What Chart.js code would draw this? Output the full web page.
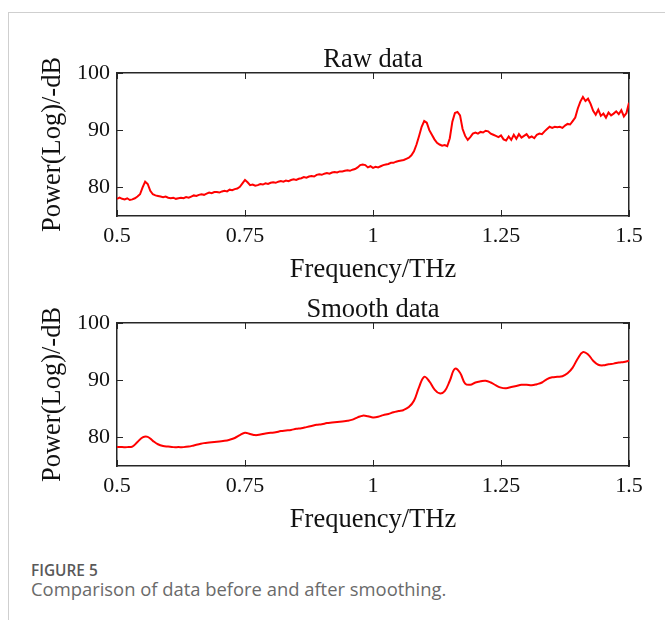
<!DOCTYPE html>
<html>
<head>
<meta charset="utf-8">
<script src="https://cdn.jsdelivr.net/npm/chart.js@4.4.0/dist/chart.umd.min.js"></script>
<style>
  body { margin: 0; background: #fff; }
  #page { position: relative; width: 665px; height: 620px; overflow: hidden; background: #fff; }
  #frame { position: absolute; left: 8px; top: 12px; right: -2px; bottom: -2px;
           border-top: 1px solid #cfcfcf; border-left: 1px solid #cfcfcf; }
  .plot { position: absolute; left: 0; }
  .cap { position: absolute; left: 31px; font-family: "Open Sans", sans-serif; white-space: nowrap; }
  #cap1 { top: 561px; font-size: 15.4px; line-height: 20px; font-weight: 600; color: #595959; }
  #cap2 { top: 577px; font-size: 18.4px; line-height: 24px; color: #6a6a6a; }
</style>
</head>
<body>
<div id="page">
  <div id="frame"></div>
  <canvas id="chart-raw" class="plot" width="665" height="270" style="top:30px"></canvas>
  <canvas id="chart-smooth" class="plot" width="665" height="270" style="top:280px"></canvas>
  <div id="cap1" class="cap">FIGURE 5</div>
  <div id="cap2" class="cap">Comparison of data before and after smoothing.</div>
</div>
<script>
var xTicks = [0.5, 0.75, 1, 1.25, 1.5];
var xTickLabels = ["0.5", "0.75", "1", "1.25", "1.5"];
var yTicks = [80, 90, 100];
var yTickLabels = ["80", "90", "100"];

var rawFreq = [
  0.500,0.505,0.510,0.515,0.520,0.525,0.530,0.535,0.540,0.545,
  0.550,0.555,0.560,0.565,0.570,0.575,0.580,0.585,0.590,0.595,
  0.600,0.605,0.610,0.615,0.620,0.625,0.630,0.635,0.640,0.645,
  0.650,0.655,0.660,0.665,0.670,0.675,0.680,0.685,0.690,0.695,
  0.700,0.705,0.710,0.715,0.720,0.725,0.730,0.735,0.740,0.745,
  0.750,0.755,0.760,0.765,0.770,0.775,0.780,0.785,0.790,0.795,
  0.800,0.805,0.810,0.815,0.820,0.825,0.830,0.835,0.840,0.845,
  0.850,0.855,0.860,0.865,0.870,0.875,0.880,0.885,0.890,0.895,
  0.900,0.905,0.910,0.915,0.920,0.925,0.930,0.935,0.940,0.945,
  0.950,0.955,0.960,0.965,0.970,0.975,0.980,0.985,0.990,0.995,
  1.000,1.005,1.010,1.015,1.020,1.025,1.030,1.035,1.040,1.045,
  1.050,1.055,1.060,1.065,1.070,1.075,1.080,1.085,1.090,1.095,
  1.100,1.105,1.110,1.115,1.120,1.125,1.130,1.135,1.140,1.145,
  1.150,1.155,1.160,1.165,1.170,1.175,1.180,1.185,1.190,1.195,
  1.200,1.205,1.210,1.215,1.220,1.225,1.230,1.235,1.240,1.245,
  1.250,1.255,1.260,1.265,1.270,1.275,1.280,1.285,1.290,1.295,
  1.300,1.305,1.310,1.315,1.320,1.325,1.330,1.335,1.340,1.345,
  1.350,1.355,1.360,1.365,1.370,1.375,1.380,1.385,1.390,1.395,
  1.400,1.405,1.410,1.415,1.420,1.425,1.430,1.435,1.440,1.445,
  1.450,1.455,1.460,1.465,1.470,1.475,1.480,1.485,1.490,1.495,
  1.500
];
var rawPower = [
  78.0,78.2,78.0,77.9,78.1,77.8,77.9,78.1,78.4,78.8,
  80.0,81.0,80.6,79.4,78.8,78.6,78.5,78.4,78.3,78.4,
  78.2,78.1,78.2,78.0,78.1,78.2,78.1,78.3,78.2,78.4,
  78.6,78.5,78.7,78.8,78.7,78.9,79.1,79.0,79.2,79.2,
  79.1,79.3,79.4,79.3,79.6,79.5,79.7,79.8,80.1,80.7,
  81.3,80.9,80.4,80.5,80.3,80.4,80.6,80.5,80.7,80.6,
  80.8,80.9,80.8,81.0,81.1,81.0,81.2,81.1,81.3,81.4,
  81.3,81.5,81.6,81.8,81.7,81.9,82.0,81.9,82.2,82.3,
  82.2,82.4,82.5,82.4,82.6,82.7,82.6,82.8,82.8,82.9,
  83.0,82.9,83.1,83.2,83.5,83.9,84.0,83.9,83.5,83.7,
  83.4,83.6,83.5,83.7,83.9,84.0,84.1,84.3,84.3,84.5,
  84.6,84.7,84.8,85.0,85.2,85.6,86.3,87.5,89.0,90.6,
  91.6,91.3,90.0,89.2,88.4,87.8,87.5,87.3,87.4,87.2,
  88.6,91.5,93.0,93.2,92.6,90.2,89.0,88.3,88.8,89.4,
  89.6,89.4,89.7,89.6,89.9,89.8,89.4,89.2,89.0,88.8,
  89.1,88.4,88.2,88.9,88.3,89.2,88.5,89.3,88.7,89.0,
  89.3,88.7,88.9,88.6,89.2,89.4,89.3,89.8,90.2,90.6,
  90.4,90.6,90.5,90.6,90.4,90.8,91.1,91.0,91.6,92.2,
  93.8,95.0,95.8,95.1,95.5,94.6,93.4,92.7,93.6,92.5,
  92.9,92.2,93.1,92.6,92.9,93.3,92.8,93.5,92.4,93.0,
  94.8
];

var smoothFreq = [
  0.50,0.51,0.52,0.53,0.54,0.55,0.56,0.57,0.58,0.59,
  0.60,0.61,0.62,0.63,0.64,0.65,0.66,0.67,0.68,0.69,
  0.70,0.71,0.72,0.73,0.74,0.75,0.76,0.77,0.78,0.79,
  0.80,0.81,0.82,0.83,0.84,0.85,0.86,0.87,0.88,0.89,
  0.90,0.91,0.92,0.93,0.94,0.95,0.96,0.97,0.98,0.99,
  1.00,1.01,1.02,1.03,1.04,1.05,1.06,1.07,1.08,1.09,
  1.10,1.11,1.12,1.13,1.14,1.15,1.16,1.17,1.18,1.19,
  1.20,1.21,1.22,1.23,1.24,1.25,1.26,1.27,1.28,1.29,
  1.30,1.31,1.32,1.33,1.34,1.35,1.36,1.37,1.38,1.39,
  1.40,1.41,1.42,1.43,1.44,1.45,1.46,1.47,1.48,1.49,
  1.50
];
var smoothPower = [
  78.3,78.3,78.3,78.4,79.2,80.0,80.1,79.4,78.8,78.5,
  78.4,78.3,78.3,78.3,78.4,78.6,78.8,79.0,79.1,79.2,
  79.3,79.4,79.6,79.9,80.4,80.8,80.6,80.4,80.5,80.7,
  80.8,80.9,81.1,81.2,81.3,81.5,81.6,81.8,82.0,82.2,
  82.3,82.5,82.6,82.7,82.8,82.9,83.1,83.5,83.8,83.7,
  83.5,83.6,83.9,84.1,84.4,84.6,84.8,85.3,86.4,88.8,
  90.6,89.8,88.4,87.7,88.1,89.9,92.0,91.3,89.4,89.2,
  89.6,89.8,89.9,89.6,89.1,88.7,88.6,88.8,89.0,89.2,
  89.2,89.1,89.3,89.6,90.2,90.5,90.6,90.7,91.2,92.2,
  93.8,94.9,94.5,93.4,92.7,92.6,92.8,92.9,93.1,93.2,
  93.4
];

var serif = "'Liberation Serif', 'Times New Roman', serif";
var axisColor = '#262626';
var textColor = '#111';
var labelSize = 26.5;

function tickGrid() {
    return { drawOnChartArea: false, drawTicks: true, tickLength: -6, color: axisColor, lineWidth: 1 };
}

// top axis carries the subplot title, right axis only closes the box
function edgeScale(position, min, max, ticks, titleText) {
    var s = {
        type: 'linear',
        position: position,
        min: min,
        max: max,
        afterBuildTicks: function (sc) { sc.ticks = ticks.map(function (v) { return {value: v}; }); },
        ticks: { display: false },
        grid: tickGrid(),
        border: { display: true, color: axisColor, width: 1.5 },
        afterFit: function (sc) {
            if (position === 'top') sc.height = 43; else sc.width = 0;
        }
    };
    if (titleText) {
        s.title = {
            display: true,
            text: titleText,
            color: textColor,
            font: { family: serif, size: labelSize, lineHeight: 1.2 },
            padding: { top: 14.1, bottom: 0 }
        };
    }
    return s;
}

function makeChart(id, titleText, xs, ys, tension) {
    var points = xs.map(function (f, i) { return {x: f, y: ys[i]}; });
    return new Chart(document.getElementById(id), {
        type: 'line',
        data: {
            datasets: [{
                data: points,
                borderColor: '#ff0000',
                borderWidth: 2,
                pointRadius: 0,
                tension: tension,
                fill: false
            }]
        },
        options: {
            responsive: false,
            animation: false,
            devicePixelRatio: 1,
            layout: { padding: { left: 0, right: 36, top: 0, bottom: 0 } },
            plugins: {
                legend: { display: false },
                tooltip: { enabled: false },
                title: { display: false }
            },
            scales: {
                x: {
                    type: 'linear',
                    position: 'bottom',
                    min: 0.5,
                    max: 1.5,
                    afterBuildTicks: function (s) { s.ticks = xTicks.map(function (v) { return {value: v}; }); },
                    ticks: {
                        callback: function (v, i) { return xTickLabels[i]; },
                        color: textColor,
                        font: { family: serif, size: 22 },
                        padding: 13,
                        maxRotation: 0,
                        autoSkip: false
                    },
                    grid: tickGrid(),
                    border: { display: true, color: axisColor, width: 1.5 },
                    title: {
                        display: true,
                        text: 'Frequency/THz',
                        color: textColor,
                        font: { family: serif, size: labelSize, lineHeight: 1.2 },
                        padding: { top: 0, bottom: 14.1 }
                    },
                    afterFit: function (s) { s.height = 84; }
                },
                y: {
                    type: 'linear',
                    position: 'left',
                    min: 75,
                    max: 100,
                    afterBuildTicks: function (s) { s.ticks = yTicks.map(function (v) { return {value: v}; }); },
                    ticks: {
                        callback: function (v, i) { return yTickLabels[i]; },
                        color: textColor,
                        font: { family: serif, size: 22 },
                        padding: 13
                    },
                    grid: tickGrid(),
                    border: { display: true, color: axisColor, width: 1.5 },
                    title: {
                        display: true,
                        text: 'Power(Log)/-dB',
                        color: textColor,
                        font: { family: serif, size: labelSize, lineHeight: 1.2 },
                        padding: { top: 37.1, bottom: 0 }
                    },
                    afterFit: function (s) { s.width = 117; }
                },
                x2: edgeScale('top', 0.5, 1.5, xTicks, titleText),
                y2: edgeScale('right', 75, 100, yTicks, null)
            }
        }
    });
}

var chartRaw = makeChart('chart-raw', 'Raw data', rawFreq, rawPower, 0);
var chartSmooth = makeChart('chart-smooth', 'Smooth data', smoothFreq, smoothPower, 0.4);
</script>
</body>
</html>
